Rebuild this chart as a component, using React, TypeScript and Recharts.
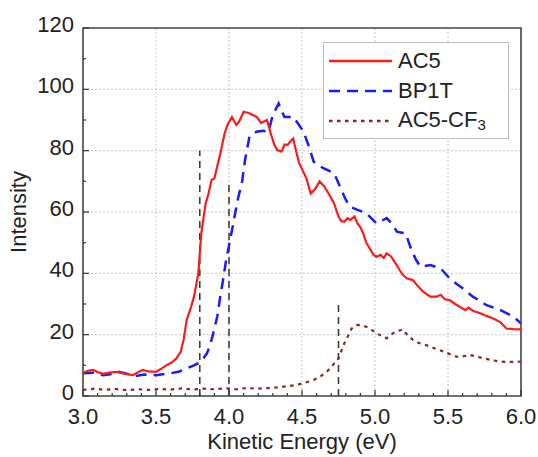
import React from 'react';
import { ComposedChart, Line, XAxis, YAxis, CartesianGrid, ReferenceArea, Legend } from 'recharts';

const ac5Energy = [3.00,3.04,3.07,3.10,3.14,3.18,3.23,3.28,3.34,3.38,3.41,3.45,3.50,3.54,3.57,3.61,3.64,3.67,3.69,3.71,3.74,3.76,3.79,3.81,3.84,3.86,3.88,3.90,3.92,3.94,3.97,3.99,4.02,4.05,4.07,4.10,4.14,4.19,4.22,4.24,4.26,4.29,4.31,4.33,4.36,4.38,4.40,4.42,4.44,4.46,4.48,4.51,4.53,4.56,4.59,4.62,4.65,4.67,4.70,4.72,4.75,4.77,4.79,4.81,4.83,4.86,4.88,4.90,4.92,4.94,4.97,4.99,5.01,5.04,5.06,5.08,5.11,5.14,5.17,5.19,5.22,5.26,5.29,5.33,5.36,5.38,5.42,5.45,5.48,5.51,5.55,5.58,5.62,5.64,5.67,5.72,5.76,5.81,5.86,5.90,5.95,6.00];
const ac5Intensity = [7.6,8.3,8.5,7.8,7.2,7.6,7.9,7.3,6.8,7.8,8.5,8.0,7.9,9.0,10.0,11.0,12.3,14.5,18.5,24.8,29.0,32.4,40.0,53.0,62.8,66.0,70.4,71.0,75.0,79.0,85.6,88.5,91.0,88.4,89.5,92.7,92.2,91.0,89.0,89.5,90.0,85.0,82.0,80.2,79.7,82.0,81.8,83.0,84.0,79.7,76.0,73.0,71.0,66.0,67.5,70.0,68.5,67.0,64.5,62.8,58.5,57.0,56.8,58.0,57.4,58.5,56.3,55.0,53.0,50.0,47.6,46.0,45.4,46.0,45.0,46.5,45.5,43.3,41.0,39.5,38.3,37.8,36.0,34.0,33.0,32.4,32.4,33.0,31.5,31.3,30.0,29.1,28.0,28.8,27.8,27.0,26.2,25.3,24.0,22.0,21.8,21.7];

const bp1tEnergy = [3.00,3.07,3.14,3.20,3.24,3.30,3.36,3.42,3.50,3.60,3.66,3.71,3.76,3.79,3.82,3.85,3.87,3.89,3.92,3.94,3.96,3.98,4.00,4.02,4.04,4.06,4.09,4.11,4.14,4.16,4.19,4.23,4.27,4.30,4.34,4.36,4.38,4.44,4.47,4.51,4.55,4.58,4.62,4.65,4.72,4.77,4.80,4.83,4.88,4.94,5.01,5.04,5.08,5.12,5.15,5.21,5.25,5.28,5.31,5.38,5.45,5.51,5.56,5.60,5.67,5.72,5.76,5.86,5.95,6.00];
const bp1tIntensity = [7.4,7.6,6.8,7.2,7.9,7.3,6.5,7.0,6.8,7.4,8.0,9.0,10.0,10.7,12.0,14.0,16.5,20.0,26.0,32.4,38.0,44.3,49.0,54.0,59.0,64.0,70.0,77.0,84.6,85.5,86.2,86.5,86.2,91.6,95.4,93.0,91.0,91.0,89.0,86.2,81.0,76.4,75.0,74.2,72.6,67.2,64.0,61.7,60.7,59.6,56.3,57.0,58.0,56.0,53.6,53.0,47.6,44.5,42.2,42.7,41.6,38.4,36.5,35.1,32.4,31.0,29.7,28.0,25.8,23.7];

const cf3Energy = [3.00,3.08,3.15,3.22,3.30,3.38,3.45,3.52,3.60,3.68,3.75,3.82,3.90,3.98,4.05,4.12,4.20,4.27,4.33,4.40,4.46,4.52,4.58,4.63,4.67,4.71,4.75,4.79,4.82,4.84,4.88,4.91,4.94,4.98,5.01,5.05,5.08,5.11,5.14,5.19,5.22,5.26,5.30,5.35,5.41,5.47,5.52,5.56,5.60,5.65,5.70,5.74,5.80,5.86,5.93,6.00];
const cf3Intensity = [2.0,2.4,2.0,2.3,1.9,2.2,2.0,2.3,2.1,2.5,2.1,2.4,2.2,2.5,2.2,2.6,2.4,2.6,2.8,3.2,3.6,4.3,5.2,6.5,7.9,10.0,12.3,17.2,20.0,22.0,23.2,23.0,22.6,21.5,20.4,19.5,18.8,20.0,21.0,21.7,20.0,18.3,17.3,16.6,15.5,14.5,13.5,12.8,12.9,13.4,12.8,12.3,11.7,11.2,11.1,11.2];

const markerEnergy = [3.8, 4.0, 4.75];
const markerHeight = [80, 70, 30];

const xTicks = [3.0,3.1,3.2,3.3,3.4,3.5,3.6,3.7,3.8,3.9,4.0,4.1,4.2,4.3,4.4,4.5,4.6,4.7,4.8,4.9,5.0,5.1,5.2,5.3,5.4,5.5,5.6,5.7,5.8,5.9,6.0];
const xMajor = [3.5, 4.0, 4.5, 5.0, 5.5];
const yTicks = [0,10,20,30,40,50,60,70,80,90,100,110,120];
const yMajor = [20, 40, 60, 80, 100];

const FONT = '"Liberation Sans", Arial, Helvetica, sans-serif';

const toPoints = (xs: number[], ys: number[]) => xs.map((x, i) => ({ x, y: ys[i] }));
const ac5Data = toPoints(ac5Energy, ac5Intensity);
const bp1tData = toPoints(bp1tEnergy, bp1tIntensity);
const cf3Data = toPoints(cf3Energy, cf3Intensity);
const markerData = markerEnergy.map((x, i) => [{ x, y: 0 }, { x, y: markerHeight[i] }]);

const isMult = (v: number, step: number) => Math.abs(v / step - Math.round(v / step)) < 1e-6;

const XTick = (props: any) => {
  const { x, y, payload } = props;
  const v = payload.value as number;
  const major = isMult(v, 0.5);
  return (
    <g>
      <line x1={x} x2={x} y1={y} y2={y - (major ? 6 : 3)} stroke="#333" strokeWidth={1.2} />
      {major && (
        <text x={x} y={y + 28} textAnchor="middle" fontSize={22} fontFamily={FONT} fill="#222">
          {v.toFixed(1)}
        </text>
      )}
    </g>
  );
};

const YTick = (props: any) => {
  const { x, y, payload } = props;
  const v = payload.value as number;
  const major = isMult(v, 20);
  return (
    <g>
      <line x1={x} x2={x + (major ? 6 : 3)} y1={y} y2={y} stroke="#333" strokeWidth={1.2} />
      {major && (
        <text x={x - 9} y={y + 4} textAnchor="end" fontSize={22} fontFamily={FONT} fill="#222">
          {v}
        </text>
      )}
    </g>
  );
};

const legendItems = [
  { name: 'AC5', color: '#ff1a1a', dash: undefined as string | undefined, width: 2.5 },
  { name: 'BP1T', color: '#1a1aff', dash: '11 7', width: 2.5 },
  { name: 'AC5-CF', sub: '3', color: '#8b2525', dash: '3.5 4.5', width: 2.5 },
];

const LegendBox = () => (
  <div
    style={{
      width: 186,
      height: 97,
      boxSizing: 'border-box',
      border: '1px solid #bdbdbd',
      background: '#fff',
      fontFamily: FONT,
      fontSize: 22,
      color: '#222',
      paddingTop: 3,
    }}
  >
    {legendItems.map((it) => (
      <div key={it.name} style={{ display: 'flex', alignItems: 'center', height: 30, lineHeight: '30px' }}>
        <svg width={74} height={10} style={{ flex: 'none' }}>
          <line x1={5} x2={68} y1={5} y2={5} stroke={it.color} strokeWidth={it.width} strokeDasharray={it.dash} />
        </svg>
        <span style={{ whiteSpace: 'nowrap' }}>
          {it.name}
          {it.sub && <span style={{ fontSize: 15, position: 'relative', top: 3 }}>{it.sub}</span>}
        </span>
      </div>
    ))}
  </div>
);

export default function App() {
  return (
    <div style={{ position: 'absolute', left: 0, top: 0, background: '#fff' }}>
      <ComposedChart width={538} height={457} margin={{ top: 28, right: 17, left: 0, bottom: 0 }}>
        <CartesianGrid
          stroke="#c4c4c4"
          strokeDasharray="2 2"
          verticalValues={xMajor}
          horizontalValues={yMajor}
        />
        <XAxis
          type="number"
          dataKey="x"
          domain={[3, 6]}
          ticks={xTicks}
          interval={0}
          tickSize={0}
          tickMargin={0}
          tickLine={false}
          axisLine={false}
          tick={<XTick />}
          height={61}
          allowDataOverflow
          label={{
            value: 'Kinetic Energy (eV)',
            position: 'insideBottom',
            offset: 8,
            style: { fontSize: 22, fontFamily: FONT, fill: '#222' },
          }}
        />
        <YAxis
          type="number"
          dataKey="y"
          domain={[0, 120]}
          ticks={yTicks}
          interval={0}
          tickSize={0}
          tickMargin={0}
          tickLine={false}
          axisLine={false}
          tick={<YTick />}
          width={83}
          allowDataOverflow
          label={{
            value: 'Intensity',
            angle: -90,
            position: 'insideLeft',
            offset: 18,
            style: { fontSize: 22, fontFamily: FONT, fill: '#222', textAnchor: 'middle' },
          }}
        />
        {markerData.map((d, i) => (
          <Line
            key={'m' + i}
            data={d}
            dataKey="y"
            stroke="#333"
            strokeWidth={1.5}
            strokeDasharray="7 5"
            dot={false}
            activeDot={false}
            legendType="none"
            isAnimationActive={false}
          />
        ))}
        <Line data={cf3Data} dataKey="y" name="AC5-CF3" stroke="#8b2525" strokeWidth={2.2} strokeDasharray="3.5 4.5" dot={false} isAnimationActive={false} />
        <Line data={bp1tData} dataKey="y" name="BP1T" stroke="#1a1aff" strokeWidth={2.5} strokeDasharray="11 7" dot={false} isAnimationActive={false} />
        <Line data={ac5Data} dataKey="y" name="AC5" stroke="#ff1a1a" strokeWidth={2.2} dot={false} isAnimationActive={false} />
        <ReferenceArea x1={3} x2={6} y1={0} y2={120} fill="none" stroke="#444" strokeWidth={1.6} />
        <Legend
          layout="vertical"
          align="center"
          verticalAlign="middle"
          content={<LegendBox />}
          wrapperStyle={{ top: 42, left: 323, width: 186, height: 97 }}
        />
      </ComposedChart>
    </div>
  );
}
